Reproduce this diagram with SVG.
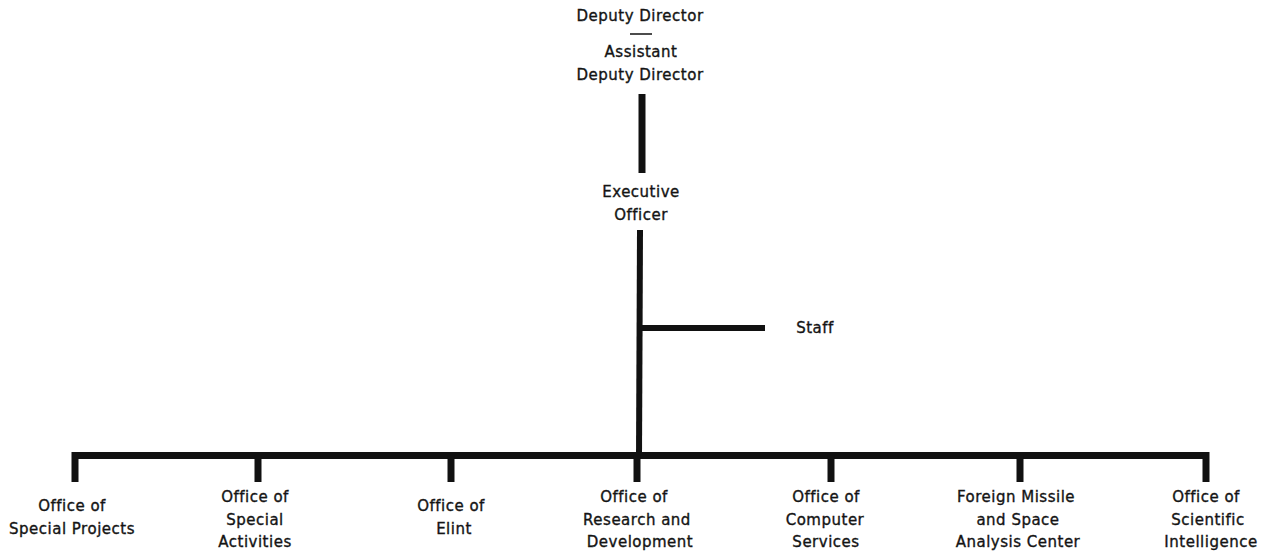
<svg xmlns="http://www.w3.org/2000/svg" width="1268" height="554" viewBox="0 0 1268 554">
<style>
text{font-family:"DejaVu Sans","Liberation Sans",sans-serif;font-size:15px;fill:#141414;stroke:#141414;stroke-width:0.35px;text-anchor:middle;letter-spacing:0.5px}
.ln{stroke:#111;fill:none;stroke-linecap:butt}
.thick{stroke-width:7}
.mid{stroke-width:6}
</style>
<rect width="1268" height="554" fill="#fff"/>
<g id="connectors">
<line class="ln thick" x1="642" y1="94" x2="642" y2="173"/>
<line class="ln mid" x1="640" y1="230" x2="639" y2="459"/>
<line class="ln mid" x1="639" y1="328" x2="765" y2="328"/>
<polyline class="ln thick" points="75,482 75,455.5 1206,455.5 1206,482"/>
<line class="ln thick" x1="258" y1="455" x2="258" y2="482"/>
<line class="ln thick" x1="451" y1="455" x2="451" y2="482"/>
<line class="ln thick" x1="637" y1="455" x2="637" y2="482"/>
<line class="ln thick" x1="831" y1="455" x2="831" y2="482"/>
<line class="ln thick" x1="1020" y1="455" x2="1020" y2="482"/>
</g>
<g id="deputy-director">
<text x="640" y="21">Deputy Director</text>
<line class="ln" x1="630" y1="34" x2="652" y2="34" stroke-width="1.5"/>
<text x="641" y="57">Assistant</text>
<text x="640" y="80">Deputy Director</text>
</g>
<g id="executive-officer">
<text x="641" y="197">Executive</text>
<text x="641" y="220">Officer</text>
</g>
<g id="staff">
<text x="815" y="333">Staff</text>
</g>
<g id="special-projects">
<text x="72" y="511">Office of</text>
<text x="72" y="534">Special Projects</text>
</g>
<g id="special-activities">
<text x="255" y="502">Office of</text>
<text x="255" y="525">Special</text>
<text x="255" y="547">Activities</text>
</g>
<g id="elint">
<text x="451" y="511">Office of</text>
<text x="454" y="534">Elint</text>
</g>
<g id="research-development">
<text x="634" y="502">Office of</text>
<text x="637" y="525">Research and</text>
<text x="640" y="547">Development</text>
</g>
<g id="computer-services">
<text x="826" y="502">Office of</text>
<text x="825" y="525">Computer</text>
<text x="826" y="547">Services</text>
</g>
<g id="foreign-missile">
<text x="1016" y="502">Foreign Missile</text>
<text x="1018" y="525">and Space</text>
<text x="1018" y="547">Analysis Center</text>
</g>
<g id="scientific-intelligence">
<text x="1206" y="502">Office of</text>
<text x="1208" y="525">Scientific</text>
<text x="1211" y="547">Intelligence</text>
</g>
</svg>
